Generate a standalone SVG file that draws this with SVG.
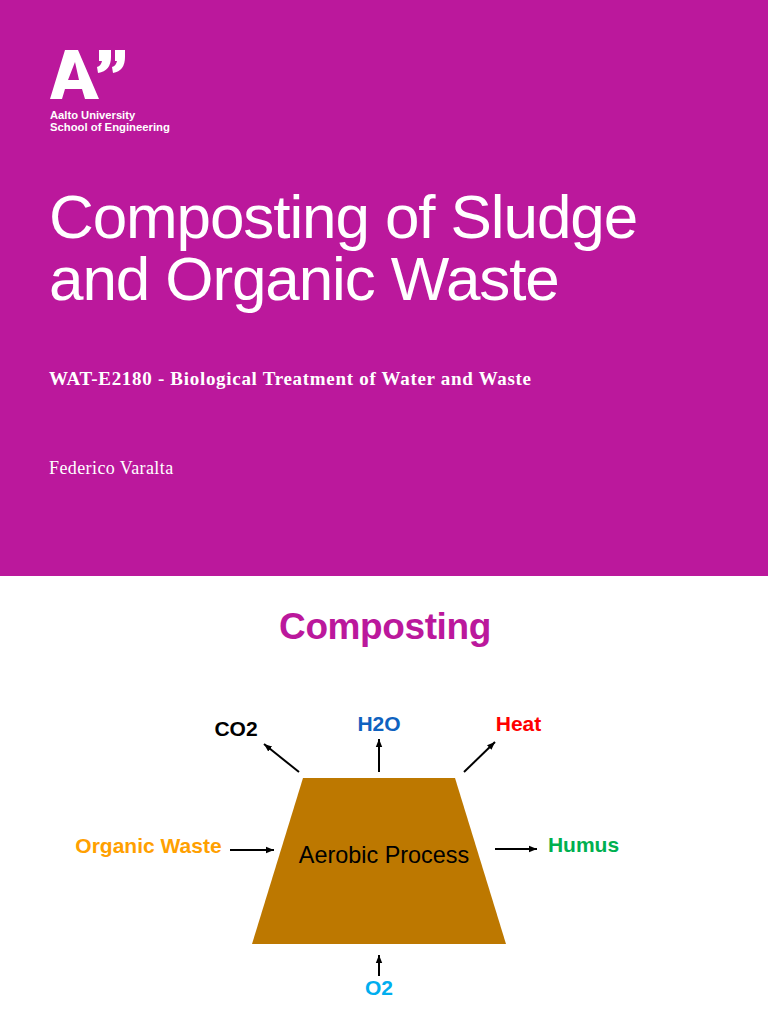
<svg xmlns="http://www.w3.org/2000/svg" width="768" height="1024" viewBox="0 0 768 1024">
<defs>
<marker id="ah" markerUnits="userSpaceOnUse" markerWidth="9" markerHeight="8" refX="8" refY="4" orient="auto"><path d="M0 .8L8 4L0 7.2Z" fill="#000"/></marker>
</defs>
<style>
.s{font-family:"Liberation Sans",Arial,sans-serif}
.g{font-family:"Liberation Serif","DejaVu Serif",serif;fill:#fff}
.b{font-weight:700;font-size:21px}
.t{font-size:62px;fill:#fff;letter-spacing:-1.1px}
.l{fill:none;stroke:#000;stroke-width:2;marker-end:url(#ah)}
</style>
<rect width="768" height="576" fill="#bb189c"/>
<rect y="576" width="768" height="448" fill="#fff"/>
<g id="logo">
<path d="M50 99L65 50H78L99 99H85L82 89H65L62 99ZM68 80H79L75 62Z" fill="#fff" fill-rule="evenodd"/>
<path d="M99 50H111V57Q111 71 98 73L97 67Q101 66 102 61H99ZM115 50H125V57Q125 71 113 73L112 67Q116 66 117 61H115Z" fill="#fff"/>
<text class="s" x="50" y="119" font-size="11.2" font-weight="700" fill="#fff">Aalto University</text>
<text class="s" x="50" y="130.500" font-size="11.3" font-weight="700" fill="#fff">School of Engineering</text>
</g>
<g id="title">
<text class="s t" x="49" y="238">Composting of Sludge</text>
<text class="s t" x="49" y="300">and Organic Waste</text>
</g>
<text id="subtitle" class="g" x="49" y="385" font-size="19" font-weight="700" letter-spacing=".7">WAT-E2180 - Biological Treatment of Water and Waste</text>
<text id="author" class="g" x="49" y="474" font-size="18" letter-spacing=".4">Federico Varalta</text>
<text id="heading" class="s" x="385" y="639" text-anchor="middle" font-size="37" font-weight="700" fill="#bb189c" letter-spacing="-.4">Composting</text>
<g id="process">
<polygon points="303,778 455,778 506,944 252,944" fill="#bd7800"/>
<text class="s" x="384" y="863" text-anchor="middle" font-size="23.400" fill="#000">Aerobic Process</text>
</g>
<g id="connectors">
<line class="l" x1="299" y1="772" x2="264" y2="744"/>
<line class="l" x1="379" y1="772" x2="379" y2="739"/>
<line class="l" x1="464" y1="772" x2="495" y2="742"/>
<line class="l" x1="230" y1="850" x2="274" y2="850"/>
<line class="l" x1="495" y1="849" x2="537" y2="849"/>
<line class="l" x1="379" y1="976" x2="379" y2="955"/>
</g>
<g id="co2"><text class="s b" x="236" y="736" text-anchor="middle" fill="#000">CO2</text></g>
<g id="h2o"><text class="s b" x="379" y="731" text-anchor="middle" fill="#0f62c0">H2O</text></g>
<g id="heat"><text class="s b" x="518.500" y="731" text-anchor="middle" fill="#f00">Heat</text></g>
<g id="organic"><text class="s b" x="148.500" y="853" text-anchor="middle" fill="#ffa000">Organic Waste</text></g>
<g id="humus"><text class="s b" x="583.500" y="852" text-anchor="middle" fill="#00b050">Humus</text></g>
<g id="o2"><text class="s b" x="379" y="995" text-anchor="middle" fill="#00aeef">O2</text></g>
</svg>
